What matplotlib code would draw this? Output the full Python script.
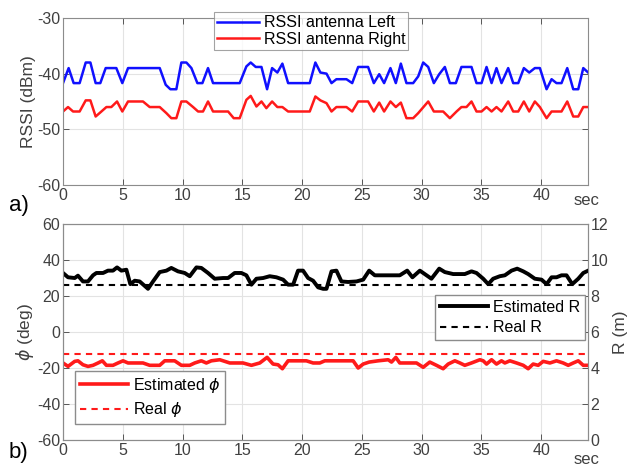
import numpy as np
import matplotlib
matplotlib.use("Agg")
import matplotlib.pyplot as plt

plt.rcParams['font.family'] = ['Liberation Sans', 'DejaVu Sans']
plt.rcParams['axes.unicode_minus'] = False

# ---- panel a) RSSI ----
t_left = [0.0, 0.47, 0.89, 1.39, 1.90, 2.29, 2.73, 3.12, 3.57, 4.46, 4.96, 5.44, 8.09, 8.59,
          8.98, 9.48, 9.90, 10.32, 10.74, 11.24, 11.66, 12.13, 12.55, 14.78, 15.34, 15.70,
          16.12, 16.60, 17.07, 17.49, 17.93, 18.35, 18.83, 20.64, 21.11, 21.53, 22.04, 22.46,
          22.87, 23.71, 24.19, 24.69, 25.52, 26.00, 26.45, 26.86, 27.39, 27.84, 28.26, 28.73,
          29.29, 29.71, 30.13, 30.55, 31.02, 31.47, 31.94, 32.36, 32.86, 33.33, 34.17, 34.59,
          35.01, 35.43, 35.85, 36.26, 36.68, 37.24, 37.66, 38.08, 38.55, 39.00, 39.47, 39.89,
          40.45, 40.87, 41.28, 41.70, 42.18, 42.68, 43.10, 43.52, 43.93]
rssi_left = [-41.7, -39.0, -41.7, -41.7, -38.0, -38.0, -41.7, -41.7, -39.0, -39.0, -41.7, -39.0,
             -39.0, -42.0, -42.8, -42.8, -38.0, -38.0, -39.0, -41.7, -41.7, -39.0, -41.7, -41.7,
             -38.7, -38.0, -38.8, -38.8, -42.8, -39.0, -39.8, -38.2, -41.7, -41.7, -38.0, -39.8,
             -40.0, -41.7, -41.0, -41.0, -41.7, -38.8, -38.8, -41.7, -40.1, -41.7, -39.0, -41.7,
             -38.2, -41.7, -41.7, -40.5, -38.0, -38.8, -41.7, -40.1, -38.8, -41.7, -41.7, -38.8,
             -38.8, -41.7, -41.7, -38.8, -41.7, -39.0, -41.7, -39.0, -41.7, -41.7, -39.0, -39.8,
             -39.0, -39.0, -42.8, -41.0, -41.7, -41.7, -39.0, -42.8, -42.8, -39.0, -39.8]

t_right = [0.0, 0.42, 0.84, 1.39, 1.90, 2.29, 2.73, 3.21, 3.63, 4.04, 4.52, 4.96, 5.44, 6.69,
           7.25, 8.09, 8.65, 9.06, 9.48, 9.90, 10.32, 10.88, 11.30, 11.71, 12.13, 12.55, 13.81,
           14.28, 14.78, 15.34, 15.70, 16.18, 16.60, 17.01, 17.49, 17.93, 18.35, 18.83, 20.64,
           21.11, 21.53, 22.04, 22.46, 22.87, 23.71, 24.19, 24.69, 25.52, 26.00, 26.45, 26.86,
           27.39, 27.84, 28.26, 28.73, 29.29, 29.71, 30.55, 31.02, 31.80, 32.36, 32.92, 33.33,
           33.75, 34.17, 34.59, 35.01, 35.43, 35.85, 36.26, 36.68, 37.24, 37.66, 38.08, 38.55,
           39.00, 39.47, 39.89, 40.45, 40.87, 41.70, 42.18, 42.68, 43.10, 43.52, 43.93]
rssi_right = [-46.8, -46.0, -46.8, -46.8, -44.8, -44.8, -47.7, -46.8, -46.0, -46.0, -45.0, -46.8,
              -45.0, -45.0, -46.0, -46.0, -47.1, -48.0, -48.0, -45.0, -45.0, -46.0, -46.8, -46.8,
              -45.0, -46.8, -46.8, -48.0, -48.0, -44.7, -44.0, -45.9, -45.0, -46.2, -45.0, -46.0,
              -46.0, -46.8, -46.8, -44.1, -44.8, -45.3, -46.8, -46.0, -46.0, -46.8, -45.0, -45.0,
              -46.8, -45.2, -46.8, -45.0, -46.0, -45.2, -48.0, -48.0, -47.1, -45.0, -46.8, -46.8,
              -48.0, -46.8, -46.0, -46.0, -45.0, -46.8, -46.8, -46.0, -46.8, -46.0, -46.8, -45.0,
              -46.8, -46.8, -45.0, -46.8, -45.0, -46.0, -48.0, -46.8, -46.8, -45.0, -47.7, -47.7,
              -46.0, -46.0]

# ---- panel b) estimated R (m) and phi (deg) ----
t_R = [0.0, 0.42, 0.98, 1.25, 1.67, 2.09, 2.51, 2.79, 3.35, 3.76, 4.18, 4.52, 4.88, 5.30, 5.63,
       6.00, 6.41, 7.11, 7.53, 8.09, 8.65, 9.06, 9.62, 10.18, 10.60, 11.16, 11.57, 12.13, 12.69,
       13.39, 13.81, 14.36, 14.92, 15.34, 15.76, 16.18, 16.74, 17.29, 17.85, 18.41, 18.83, 19.25,
       19.66, 20.08, 20.50, 20.92, 21.34, 21.76, 22.04, 22.46, 22.87, 23.29, 23.85, 24.55, 25.11,
       25.61, 26.08, 28.17, 28.79, 29.23, 29.85, 30.41, 30.82, 31.47, 31.94, 32.64, 33.61, 34.17,
       34.59, 35.15, 35.57, 35.98, 36.54, 36.96, 37.52, 37.99, 38.50, 38.91, 39.47, 40.03, 40.45,
       40.87, 41.28, 41.70, 42.12, 42.60, 43.10, 43.52, 43.93]
R_est = [9.28, 9.04, 9.00, 9.13, 8.81, 8.81, 9.15, 9.28, 9.28, 9.41, 9.41, 9.59, 9.41, 9.46, 8.66,
         8.85, 8.81, 8.40, 8.81, 9.33, 9.41, 9.56, 9.37, 9.28, 9.10, 9.59, 9.56, 9.28, 8.96,
         9.00, 9.00, 9.28, 9.28, 9.15, 8.63, 8.96, 9.00, 9.10, 9.04, 8.91, 8.63, 8.63,
         9.41, 9.41, 9.00, 8.85, 8.48, 8.40, 8.40, 9.37, 9.41, 8.81, 8.78, 8.81, 8.91,
         9.41, 9.15, 9.15, 9.41, 9.04, 9.41, 9.15, 8.96, 9.52, 9.33, 9.22, 9.22, 9.37,
         9.28, 8.96, 8.66, 8.96, 9.10, 9.15, 9.41, 9.52, 9.37, 9.22, 8.96, 8.91, 8.66,
         9.04, 9.04, 9.15, 9.15, 8.66, 8.96, 9.28, 9.41]
R_real = 8.6

t_phi = [0.0, 0.42, 0.98, 1.25, 1.67, 2.09, 2.51, 2.93, 3.29, 3.63, 4.18, 4.60, 5.02, 5.44, 6.69,
         7.25, 8.09, 8.51, 9.34, 9.90, 10.60, 11.02, 11.57, 11.99, 12.41, 13.11, 13.95, 15.06,
         15.76, 16.46, 17.07, 17.57, 17.99, 18.35, 18.83, 20.36, 20.92, 21.48, 21.90, 24.27,
         24.69, 25.11, 25.61, 26.36, 27.20, 27.48, 27.84, 28.17, 29.57, 30.13, 30.68, 31.24,
         31.80, 32.22, 32.78, 33.20, 33.61, 34.17, 34.87, 35.15, 35.43, 35.85, 36.26, 36.68,
         36.96, 37.38, 37.94, 38.50, 38.91, 39.33, 39.75, 40.17, 40.73, 41.28, 41.84, 42.26,
         42.68, 43.10, 43.52, 43.93]
phi_est = [-17.2, -19.1, -16.3, -16.0, -18.2, -19.1, -18.5, -17.2, -16.0, -18.5, -18.5, -17.2,
           -16.0, -17.2, -17.2, -18.5, -18.5, -16.0, -16.0, -18.5, -18.5, -17.2, -16.0, -17.2,
           -16.0, -15.4, -17.2, -17.2, -18.5, -17.2, -14.1, -17.8, -18.2, -20.4, -16.0, -16.0,
           -17.2, -17.2, -16.0, -16.0, -20.0, -17.8, -16.7, -16.0, -15.4, -16.7, -14.1, -17.2,
           -17.2, -19.6, -16.7, -18.5, -20.4, -17.8, -16.0, -17.2, -18.5, -17.2, -15.4, -16.0,
           -17.8, -15.4, -17.8, -16.0, -17.2, -16.0, -17.2, -18.5, -20.4, -17.8, -18.5, -16.3,
           -17.2, -16.0, -17.2, -18.5, -17.2, -16.0, -18.5, -18.5]
phi_real = -12.3

grey = '#404040'
spine = '#8c8c8c'
gridc = '#e3e3e3'
tick_fs = 11.5

fig = plt.figure(figsize=(6.27, 4.67), dpi=100)

def style(ax):
    for s in ax.spines.values():
        s.set_color(spine)
        s.set_linewidth(0.8)
    ax.grid(True, color=gridc, linewidth=0.8)
    ax.set_axisbelow(True)
    ax.tick_params(direction='in', colors=grey, labelsize=tick_fs, length=4, width=0.6,
                   pad=2)
    ax.set_xlim(0, 43.9)
    ax.set_xticks([0, 5, 10, 15, 20, 25, 30, 35, 40])

# panel a
ax1 = fig.add_axes([0.1005, 0.6039, 0.837, 0.3576])
style(ax1)
ax1.tick_params(top=True, right=True)
ax1.plot(t_left, rssi_left, color='#1010ff', lw=1.8, label='RSSI antenna Left')
ax1.plot(t_right, rssi_right, color='#ff1a1a', lw=1.8, label='RSSI antenna Right')
ax1.set_ylim(-60, -30)
ax1.set_yticks([-60, -50, -40, -30])
ax1.set_ylabel('RSSI (dBm)', color=grey, fontsize=12.5, labelpad=1)
leg = ax1.legend(loc='upper left', bbox_to_anchor=(0.288, 1.035), fontsize=11.5,
                 frameon=True, fancybox=False, borderpad=0.2, labelspacing=0.1,
                 handlelength=2.6, handletextpad=0.3, borderaxespad=0)
leg.get_frame().set_edgecolor(spine)
leg.get_frame().set_linewidth(0.8)
fig.text(0.936, 0.562, 'sec', color=grey, fontsize=12, ha='center')
fig.text(0.014, 0.548, 'a)', color='black', fontsize=16)

# panel b
ax2 = fig.add_axes([0.1005, 0.0578, 0.837, 0.4625])
style(ax2)
ax2.set_ylim(-60, 60)
ax2.set_yticks(np.arange(-60, 61, 20))
ax2.set_ylabel(r'$\phi$ (deg)', color=grey, fontsize=12.5, labelpad=1)
ax3 = ax2.twinx()
ax3.set_ylim(0, 12)
ax3.set_yticks(np.arange(0, 13, 2))
ax3.tick_params(direction='in', colors=grey, labelsize=tick_fs, length=4, width=0.6, pad=2)
for s in ax3.spines.values():
    s.set_color(spine)
ax3.set_ylabel('R (m)', color=grey, fontsize=12.5, labelpad=3)

lr1, = ax3.plot(t_R, R_est, color='black', lw=2.8, label='Estimated R')
lr2 = ax3.axhline(R_real, color='black', lw=1.5, ls=(0, (3, 2.5)), label='Real R')
lp1, = ax2.plot(t_phi, phi_est, color='#ff1a1a', lw=2.6, label=r'Estimated $\phi$')
lp2 = ax2.axhline(phi_real, color='#ff1a1a', lw=1.5, ls=(0, (3, 2.5)), label=r'Real $\phi$')

lg1 = ax3.legend(handles=[lp1, lp2], loc='lower left', bbox_to_anchor=(0.023, 0.074),
                 fontsize=11.5, fancybox=False, borderpad=0.3, labelspacing=0.35,
                 handlelength=3.0, handletextpad=0.3, borderaxespad=0)
lg1.get_frame().set_edgecolor(spine)
lg1.get_frame().set_alpha(1)
ax3.add_artist(lg1)
lg2 = ax3.legend(handles=[lr1, lr2], loc='upper left', bbox_to_anchor=(0.709, 0.671),
                 fontsize=11.5, fancybox=False, borderpad=0.3, labelspacing=0.35,
                 handlelength=3.0, handletextpad=0.3, borderaxespad=0)
lg2.get_frame().set_edgecolor(spine)
lg2.get_frame().set_alpha(1)

fig.text(0.936, 0.006, 'sec', color=grey, fontsize=12, ha='center')
fig.text(0.014, 0.02, 'b)', color='black', fontsize=16)

fig.savefig('out.png', dpi=100)
